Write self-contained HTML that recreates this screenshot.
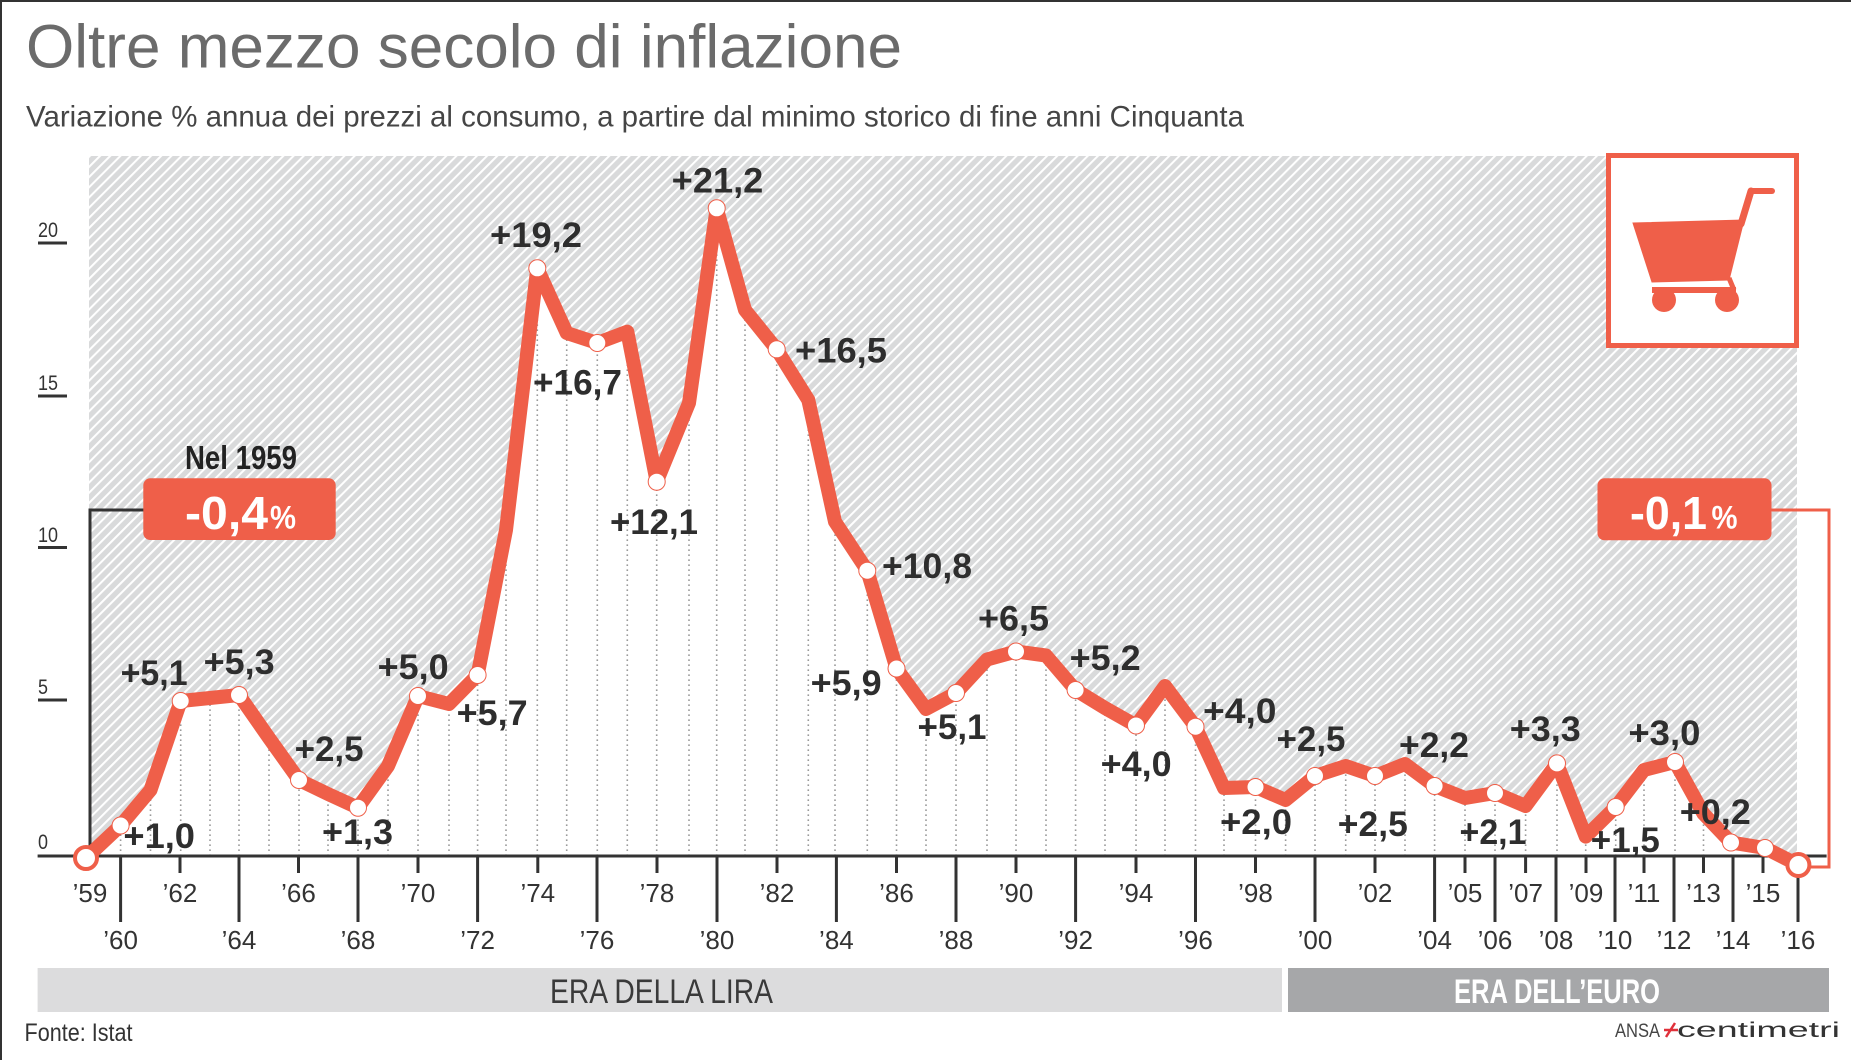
<!DOCTYPE html>
<html><head><meta charset="utf-8"><style>
html,body{margin:0;padding:0;background:#fff;}
svg{display:block;}
text{font-family:"Liberation Sans",Arial,sans-serif;}
</style></head><body>
<svg width="1851" height="1060" viewBox="0 0 1851 1060" xmlns="http://www.w3.org/2000/svg">
<defs>
<pattern id="h" width="7.2" height="7.2" patternUnits="userSpaceOnUse" patternTransform="rotate(45)">
<rect width="7.2" height="7.2" fill="#d9dadb"/>
<line x1="1" y1="0" x2="1" y2="7.2" stroke="#ffffff" stroke-width="2"/>
</pattern>
<clipPath id="under"><polygon points="86,858 120.6,825.5 150.5,790 180.7,701 210,698 239,695 269,738 299,780 328,794 358,807.7 388,766 418,696 449,704 477.6,675 506,530 537.3,268.3 566.7,333 597.3,343 627.3,331.7 656.7,481.7 689,403 716.7,208.3 745,310 776.7,349.3 808.3,400 835,521.7 867.3,570.7 896.5,668.5 926,709 956,693 987,659.5 1016,651.5 1046,655.5 1075.6,690 1105,708 1136,725.5 1165,686 1195.5,726.7 1224,788 1255.5,787 1285.6,800 1315,776 1345.7,766 1375,776 1405,764 1434.6,786 1465,798 1495,793 1525.6,806 1557,763.4 1585.7,836.6 1615.7,807 1644,770 1675,762 1703.5,813.7 1731,842.5 1765,848 1798.4,865 1798.4,856 86,856"/></clipPath>
</defs>
<rect width="1851" height="1060" fill="#fff"/>
<rect x="0" y="0" width="1851" height="2" fill="#333"/>
<rect x="0" y="0" width="2" height="1060" fill="#333"/>

<text x="26" y="67.6" font-size="61" textLength="876" lengthAdjust="spacingAndGlyphs" fill="#6b6b6b">Oltre mezzo secolo di inflazione</text>
<text x="26" y="126.7" font-size="30" textLength="1218" lengthAdjust="spacingAndGlyphs" fill="#454545">Variazione % annua dei prezzi al consumo, a partire dal minimo storico di fine anni Cinquanta</text>

<rect x="89" y="156" width="1708" height="700" fill="url(#h)"/>
<polygon fill="#fff" points="86,858 120.6,825.5 150.5,790 180.7,701 210,698 239,695 269,738 299,780 328,794 358,807.7 388,766 418,696 449,704 477.6,675 506,530 537.3,268.3 566.7,333 597.3,343 627.3,331.7 656.7,481.7 689,403 716.7,208.3 745,310 776.7,349.3 808.3,400 835,521.7 867.3,570.7 896.5,668.5 926,709 956,693 987,659.5 1016,651.5 1046,655.5 1075.6,690 1105,708 1136,725.5 1165,686 1195.5,726.7 1224,788 1255.5,787 1285.6,800 1315,776 1345.7,766 1375,776 1405,764 1434.6,786 1465,798 1495,793 1525.6,806 1557,763.4 1585.7,836.6 1615.7,807 1644,770 1675,762 1703.5,813.7 1731,842.5 1765,848 1798.4,865 1798.4,856 86,856"/>
<g clip-path="url(#under)" stroke="#9a9a9a" stroke-width="1.6" stroke-dasharray="1.6 3.4">
<path d="M120.6 856V156M150.5 856V156M180.7 856V156M210 856V156M239 856V156M269 856V156M299 856V156M328 856V156M358 856V156M388 856V156M418 856V156M449 856V156M477.6 856V156M506 856V156M537.3 856V156M566.7 856V156M597.3 856V156M627.3 856V156M656.7 856V156M689 856V156M716.7 856V156M745 856V156M776.7 856V156M808.3 856V156M835 856V156M867.3 856V156M896.5 856V156M926 856V156M956 856V156M987 856V156M1016 856V156M1046 856V156M1075.6 856V156M1105 856V156M1136 856V156M1165 856V156M1195.5 856V156M1224 856V156M1255.5 856V156M1285.6 856V156M1315 856V156M1345.7 856V156M1375 856V156M1405 856V156M1434.6 856V156M1465 856V156M1495 856V156M1525.6 856V156M1557 856V156M1585.7 856V156M1615.7 856V156M1644 856V156M1675 856V156M1703.5 856V156M1731 856V156M1765 856V156"/>
</g>

<rect x="1608.5" y="155.5" width="188" height="190" fill="#fff" stroke="#ef5f49" stroke-width="5"/>
<g fill="#ef5f49" stroke="#ef5f49">
<polygon points="1633,223 1744,220 1729,280 1652,282" stroke-width="1"/>
<line x1="1741" y1="224" x2="1751" y2="191" stroke-width="7" stroke-linecap="round"/>
<line x1="1751" y1="191" x2="1772" y2="191" stroke-width="6" stroke-linecap="round"/>
<rect x="1652" y="287" width="84" height="6" stroke="none"/>
<line x1="1729" y1="278" x2="1734" y2="290" stroke-width="5"/>
<circle cx="1664" cy="300" r="12" stroke="none"/>
<circle cx="1727" cy="300" r="12" stroke="none"/>
</g>

<g fill="#333">
<rect x="38" y="241.5" width="29" height="3"/>
<rect x="38" y="394.5" width="29" height="3"/>
<rect x="38" y="546" width="29" height="3"/>
<rect x="38" y="698.5" width="29" height="3"/>
</g>
<g font-size="21" fill="#333">
<text x="38" y="237" textLength="20" lengthAdjust="spacingAndGlyphs">20</text>
<text x="38" y="390" textLength="20" lengthAdjust="spacingAndGlyphs">15</text>
<text x="38" y="542" textLength="20" lengthAdjust="spacingAndGlyphs">10</text>
<text x="38" y="694" textLength="10" lengthAdjust="spacingAndGlyphs">5</text>
<text x="38" y="849" textLength="10" lengthAdjust="spacingAndGlyphs">0</text>
</g>

<path d="M144 510H90V856" fill="none" stroke="#333" stroke-width="3"/>
<path d="M1771 510H1829V867H1808" fill="none" stroke="#ef5f49" stroke-width="3"/>

<rect x="37.6" y="854.5" width="1789" height="3" fill="#333"/>
<g stroke="#333" stroke-width="3">
<path d="M180 856V873M298.5 856V873M418 856V873M537.8 856V873M657 856V873M777 856V873M896.5 856V873M1016 856V873M1136 856V873M1255.5 856V873M1375 856V873M1465 856V873M1525.6 856V873M1586 856V873M1644 856V873M1703.5 856V873M1763 856V873"/>
<path d="M120.6 856V922M239 856V922M358 856V922M477.6 856V922M597 856V922M717 856V922M836.4 856V922M956 856V922M1075.6 856V922M1195.5 856V922M1315 856V922M1434.6 856V922M1495 856V922M1556 856V922M1615 856V922M1674 856V922M1733 856V922M1798 856V922"/>
</g>
<g font-size="26" fill="#333" text-anchor="middle">
<text x="90" y="902">’59</text><text x="180" y="902">’62</text><text x="298.5" y="902">’66</text><text x="418" y="902">’70</text><text x="537.8" y="902">’74</text><text x="657" y="902">’78</text><text x="777" y="902">’82</text><text x="896.5" y="902">’86</text><text x="1016" y="902">’90</text><text x="1136" y="902">’94</text><text x="1255.5" y="902">’98</text><text x="1375" y="902">’02</text><text x="1465" y="902">’05</text><text x="1525.6" y="902">’07</text><text x="1586" y="902">’09</text><text x="1644" y="902">’11</text><text x="1703.5" y="902">’13</text><text x="1763" y="902">’15</text>
<text x="120.6" y="949">’60</text><text x="239" y="949">’64</text><text x="358" y="949">’68</text><text x="477.6" y="949">’72</text><text x="597" y="949">’76</text><text x="717" y="949">’80</text><text x="836.4" y="949">’84</text><text x="956" y="949">’88</text><text x="1075.6" y="949">’92</text><text x="1195.5" y="949">’96</text><text x="1315" y="949">’00</text><text x="1434.6" y="949">’04</text><text x="1495" y="949">’06</text><text x="1556" y="949">’08</text><text x="1615" y="949">’10</text><text x="1674" y="949">’12</text><text x="1733" y="949">’14</text><text x="1798" y="949">’16</text>
</g>

<polyline fill="none" stroke="#ef5f49" stroke-width="14" stroke-linejoin="round" stroke-linecap="round" points="86,858 120.6,825.5 150.5,790 180.7,701 210,698 239,695 269,738 299,780 328,794 358,807.7 388,766 418,696 449,704 477.6,675 506,530 537.3,268.3 566.7,333 597.3,343 627.3,331.7 656.7,481.7 689,403 716.7,208.3 745,310 776.7,349.3 808.3,400 835,521.7 867.3,570.7 896.5,668.5 926,709 956,693 987,659.5 1016,651.5 1046,655.5 1075.6,690 1105,708 1136,725.5 1165,686 1195.5,726.7 1224,788 1255.5,787 1285.6,800 1315,776 1345.7,766 1375,776 1405,764 1434.6,786 1465,798 1495,793 1525.6,806 1557,763.4 1585.7,836.6 1615.7,807 1644,770 1675,762 1703.5,813.7 1731,842.5 1765,848 1798.4,865"/>
<g fill="#fff" stroke="#ef5f49" stroke-width="1">
<circle cx="120.6" cy="825.5" r="8.5"/><circle cx="180.7" cy="701" r="8.5"/><circle cx="239" cy="695" r="8.5"/><circle cx="299" cy="780" r="8.5"/><circle cx="358" cy="807.7" r="8.5"/><circle cx="418" cy="696" r="8.5"/><circle cx="477.6" cy="675" r="8.5"/><circle cx="537.3" cy="268.3" r="8.5"/><circle cx="597.3" cy="343" r="8.5"/><circle cx="656.7" cy="481.7" r="8.5"/><circle cx="716.7" cy="208.3" r="8.5"/><circle cx="776.7" cy="349.3" r="8.5"/><circle cx="867.3" cy="570.7" r="8.5"/><circle cx="896.5" cy="668.5" r="8.5"/><circle cx="956" cy="693" r="8.5"/><circle cx="1016" cy="651.5" r="8.5"/><circle cx="1075.6" cy="690" r="8.5"/><circle cx="1136" cy="725.5" r="8.5"/><circle cx="1195.5" cy="726.7" r="8.5"/><circle cx="1255.5" cy="787" r="8.5"/><circle cx="1315" cy="776" r="8.5"/><circle cx="1375" cy="776" r="8.5"/><circle cx="1434.6" cy="786" r="8.5"/><circle cx="1495" cy="793" r="8.5"/><circle cx="1557" cy="763.4" r="8.5"/><circle cx="1615.7" cy="807" r="8.5"/><circle cx="1675" cy="762" r="8.5"/><circle cx="1731" cy="842.5" r="8.5"/><circle cx="1765" cy="848" r="8.5"/>
</g>
<circle cx="86" cy="858" r="11" fill="#fff" stroke="#ef5f49" stroke-width="4"/>
<circle cx="1798.4" cy="865" r="11" fill="#fff" stroke="#ef5f49" stroke-width="4"/>

<g font-size="35" font-weight="bold" fill="#2e2e2e">
<text x="123.4" y="848" textLength="71.6" lengthAdjust="spacingAndGlyphs">+1,0</text>
<text x="120.6" y="685" textLength="67" lengthAdjust="spacingAndGlyphs">+5,1</text>
<text x="203.6" y="674" textLength="71" lengthAdjust="spacingAndGlyphs">+5,3</text>
<text x="294.6" y="761" textLength="69" lengthAdjust="spacingAndGlyphs">+2,5</text>
<text x="322" y="844" textLength="71" lengthAdjust="spacingAndGlyphs">+1,3</text>
<text x="377.6" y="679" textLength="71" lengthAdjust="spacingAndGlyphs">+5,0</text>
<text x="456.7" y="725" textLength="71" lengthAdjust="spacingAndGlyphs">+5,7</text>
<text x="490" y="247" textLength="92" lengthAdjust="spacingAndGlyphs">+19,2</text>
<text x="533" y="394.5" textLength="89" lengthAdjust="spacingAndGlyphs">+16,7</text>
<text x="671.7" y="192.5" textLength="91.6" lengthAdjust="spacingAndGlyphs">+21,2</text>
<text x="610" y="534" textLength="88" lengthAdjust="spacingAndGlyphs">+12,1</text>
<text x="795" y="362.5" textLength="92" lengthAdjust="spacingAndGlyphs">+16,5</text>
<text x="882" y="578" textLength="90" lengthAdjust="spacingAndGlyphs">+10,8</text>
<text x="810.7" y="695" textLength="71" lengthAdjust="spacingAndGlyphs">+5,9</text>
<text x="917.5" y="739" textLength="69" lengthAdjust="spacingAndGlyphs">+5,1</text>
<text x="978" y="630.5" textLength="71" lengthAdjust="spacingAndGlyphs">+6,5</text>
<text x="1069.7" y="670" textLength="71" lengthAdjust="spacingAndGlyphs">+5,2</text>
<text x="1100.6" y="776" textLength="71" lengthAdjust="spacingAndGlyphs">+4,0</text>
<text x="1203" y="723" textLength="73.5" lengthAdjust="spacingAndGlyphs">+4,0</text>
<text x="1220" y="834" textLength="72" lengthAdjust="spacingAndGlyphs">+2,0</text>
<text x="1276.5" y="751" textLength="69" lengthAdjust="spacingAndGlyphs">+2,5</text>
<text x="1337.8" y="836" textLength="70" lengthAdjust="spacingAndGlyphs">+2,5</text>
<text x="1399" y="757" textLength="70" lengthAdjust="spacingAndGlyphs">+2,2</text>
<text x="1459.5" y="844" textLength="67" lengthAdjust="spacingAndGlyphs">+2,1</text>
<text x="1509.8" y="741" textLength="71" lengthAdjust="spacingAndGlyphs">+3,3</text>
<text x="1590.8" y="852" textLength="69" lengthAdjust="spacingAndGlyphs">+1,5</text>
<text x="1628.4" y="745" textLength="72" lengthAdjust="spacingAndGlyphs">+3,0</text>
<text x="1679.8" y="824" textLength="71" lengthAdjust="spacingAndGlyphs">+0,2</text>
</g>

<text x="185" y="469" font-size="33" font-weight="bold" fill="#222" textLength="112" lengthAdjust="spacingAndGlyphs">Nel 1959</text>
<rect x="143.3" y="478.3" width="192.4" height="61.7" rx="7" fill="#ef5f49"/>
<text x="185" y="529" font-size="46" font-weight="bold" fill="#fff" textLength="83" lengthAdjust="spacingAndGlyphs">-0,4</text>
<text x="270" y="528.5" font-size="32" font-weight="bold" fill="#fff" textLength="26" lengthAdjust="spacingAndGlyphs">%</text>
<rect x="1597.5" y="478.3" width="174" height="62" rx="7" fill="#ef5f49"/>
<text x="1630" y="529" font-size="46" font-weight="bold" fill="#fff" textLength="77" lengthAdjust="spacingAndGlyphs">-0,1</text>
<text x="1711.5" y="528.5" font-size="32" font-weight="bold" fill="#fff" textLength="26" lengthAdjust="spacingAndGlyphs">%</text>

<rect x="37.6" y="968" width="1244.4" height="44" fill="#dcdcdd"/>
<rect x="1288" y="968" width="541" height="44" fill="#a6a7a9"/>
<text x="550" y="1003" font-size="34" fill="#3a3a3a" textLength="223" lengthAdjust="spacingAndGlyphs">ERA DELLA LIRA</text>
<text x="1454" y="1003" font-size="34" font-weight="bold" fill="#fff" textLength="206" lengthAdjust="spacingAndGlyphs">ERA DELL’EURO</text>

<text x="24.5" y="1041" font-size="25" fill="#333" textLength="108" lengthAdjust="spacingAndGlyphs">Fonte: Istat</text>

<text x="1615" y="1037" font-size="19" fill="#444" textLength="45" lengthAdjust="spacingAndGlyphs">ANSA</text>
<path d="M1664 1030H1678M1666 1037L1675 1023" stroke="#e0303a" stroke-width="2.5" fill="none"/>
<text x="1677" y="1037" font-size="21" fill="#333" textLength="163" lengthAdjust="spacingAndGlyphs">centimetri</text>
</svg>
</body></html>
